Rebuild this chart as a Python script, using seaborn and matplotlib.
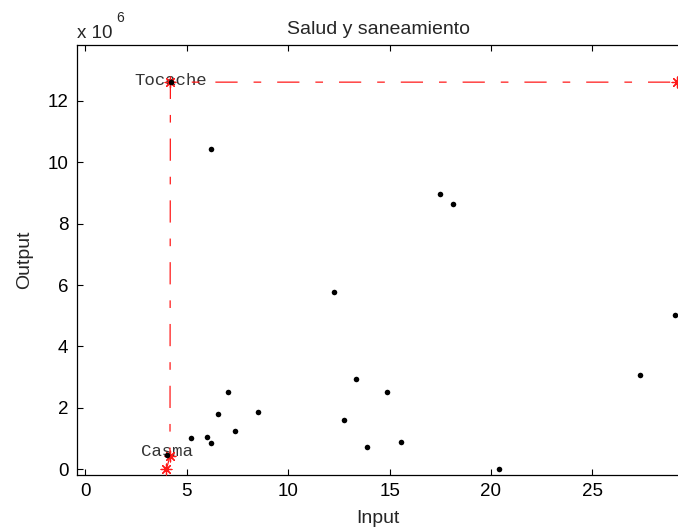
import matplotlib
matplotlib.use("Agg")
import matplotlib.pyplot as plt
import seaborn as sns
import pandas as pd

# ---- data ----
input_vals = [6.18, 17.50, 18.11, 12.27, 13.33, 14.86, 7.05, 6.52, 8.50, 7.38,
              5.19, 5.98, 6.18, 12.74, 13.87, 15.58, 20.41, 27.36, 29.09,
              4.21, 4.01]
output_vals = [10.43e6, 8.98e6, 8.63e6, 5.76e6, 2.94e6, 2.51e6, 2.51e6, 1.81e6,
               1.88e6, 1.26e6, 1.02e6, 1.06e6, 0.87e6, 1.60e6, 0.72e6, 0.90e6,
               0.02e6, 3.06e6, 5.01e6, 12.61e6, 0.47e6]
frontier_x = [3.99, 4.17, 4.19, 29.15]
frontier_y = [0.0, 0.42e6, 12.61e6, 12.61e6]
label_names = ["Tocache", "Casma"]
label_x = [4.21, 4.01]
label_y = [12.61e6, 0.47e6]
x_ticks = [0, 5, 10, 15, 20, 25]
y_ticks = [0, 2e6, 4e6, 6e6, 8e6, 10e6, 12e6]

sns.set_style("white")
plt.rcParams["font.family"] = ["Liberation Sans", "DejaVu Sans"]
plt.rcParams["lines.scale_dashes"] = False

fig = plt.figure(figsize=(6.78, 5.32), dpi=100)
W, H = 678, 532
left, right, top, bottom = 76.7, 680, 45, 475
ax = fig.add_axes([left / W, 1 - bottom / H, (right - left) / W, (bottom - top) / H])

dmu = pd.DataFrame({"Input": input_vals, "Output": output_vals})
front = pd.DataFrame({"x": frontier_x, "y": frontier_y})

sns.lineplot(data=front, x="x", y="y", sort=False, estimator=None, ax=ax,
             color="#ff1a1a", lw=0.9, linestyle=(0, (16, 11.5, 5.5, 11.5)), zorder=2)
sns.scatterplot(data=front, x="x", y="y", ax=ax, marker=(8, 2, 0), s=60,
                color="#ff1a1a", linewidth=0.9, zorder=3)
sns.scatterplot(data=dmu, x="Input", y="Output", ax=ax, color="black", s=16,
                edgecolor="black", linewidth=0, zorder=4)

for name, xv, yv in zip(label_names, label_x, label_y):
    dy = 0.06e6 if name == "Tocache" else 0.1e6
    ax.text(xv, yv + dy, name, family=["Liberation Mono", "DejaVu Sans Mono"],
            fontsize=12.5, color="#333333", ha="center", va="center", zorder=1)

ax.set_xlim(-0.43, 29.32)
ax.set_ylim(-0.186e6, 13.82e6)
ax.set_xticks(x_ticks)
ax.set_xticklabels([str(t) for t in x_ticks])
ax.set_yticks(y_ticks)
ax.set_yticklabels([str(int(t / 1e6)) for t in y_ticks])
ax.tick_params(direction="in", length=4, width=0.8, labelsize=13.5,
               top=True, right=False, bottom=True, left=True, pad=6, colors="black")
for s in ["left", "bottom", "top"]:
    ax.spines[s].set_color("black")
    ax.spines[s].set_linewidth(0.9)
ax.spines["right"].set_visible(False)

ax.set_xlabel("Input", fontsize=14, labelpad=7)
ax.set_ylabel("Output", fontsize=14, labelpad=10)
ax.set_title("Salud y saneamiento", fontsize=14, pad=8)

fig.text(77 / W, 1 - 38 / H, "x 10", fontsize=13.5, ha="left", va="baseline")
fig.text(116 / W, 1 - 22 / H, "6", fontsize=10, ha="left", va="baseline")

fig.savefig("out.png", dpi=100)
